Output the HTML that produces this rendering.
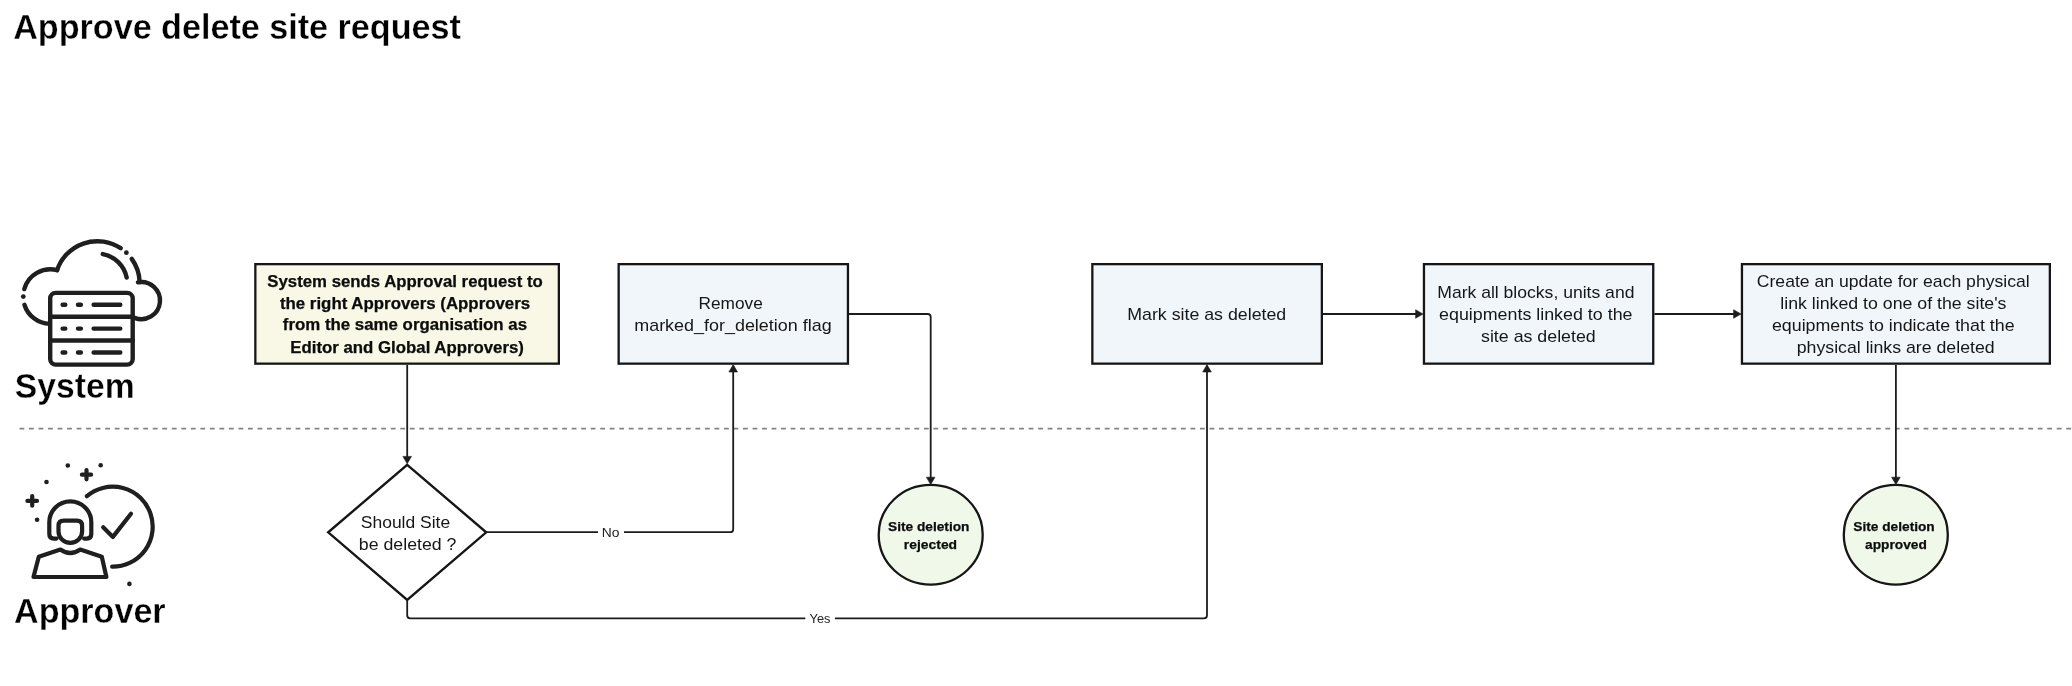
<!DOCTYPE html>
<html><head><meta charset="utf-8"><title>Approve delete site request</title>
<style>
html,body{margin:0;padding:0;background:#fff;width:2072px;height:686px;overflow:hidden}
svg{position:absolute;left:0;top:0;display:block;will-change:transform}
text{font-family:"Liberation Sans",sans-serif}
</style></head><body>
<svg width="2072" height="686" viewBox="0 0 2072 686">
<rect x="0" y="0" width="2072" height="686" fill="#ffffff"/>
<line x1="19.5" y1="428.7" x2="2072" y2="428.7" stroke="#848484" stroke-width="1.8" stroke-dasharray="4.8 4.72"/>
<rect x="255.35" y="264.15" width="303.5" height="99.50000000000001" fill="#f9f8e7" stroke="#161616" stroke-width="2.3"/>
<rect x="618.65" y="264.15" width="229.3" height="99.50000000000001" fill="#f1f6fb" stroke="#161616" stroke-width="2.3"/>
<rect x="1092.3500000000001" y="264.15" width="229.49999999999994" height="99.50000000000001" fill="#f1f6fb" stroke="#161616" stroke-width="2.3"/>
<rect x="1423.95" y="264.15" width="229.30000000000013" height="99.50000000000001" fill="#f1f6fb" stroke="#161616" stroke-width="2.3"/>
<rect x="1741.95" y="264.15" width="307.90000000000003" height="99.50000000000001" fill="#f1f6fb" stroke="#161616" stroke-width="2.3"/>
<path d="M407.2 464.79999999999995 L486.2 532.3 L407.2 599.8 L328.2 532.3 Z" fill="#ffffff" stroke="#161616" stroke-width="2.4" stroke-linejoin="miter"/>
<ellipse cx="930.7" cy="534.75" rx="52" ry="49.8" fill="#f0f8ea" stroke="#161616" stroke-width="2.3"/>
<ellipse cx="1895.8" cy="534.75" rx="52" ry="49.8" fill="#f0f8ea" stroke="#161616" stroke-width="2.3"/>
<path d="M407.2 365 L407.2 457" fill="none" stroke="#1c1c1c" stroke-width="1.8" stroke-linejoin="round"/>
<polygon points="407.2,463.8 402.9,456.40000000000003 411.5,456.40000000000003" fill="#1c1c1c" stroke="#1c1c1c" stroke-width="0.6" stroke-linejoin="miter"/>
<path d="M486.2 532.2 L598 532.2 M624 532.2 L730.2 532.2 Q733.2 532.2 733.2 529.2 L733.2 371" fill="none" stroke="#1c1c1c" stroke-width="1.8" stroke-linejoin="round"/>
<polygon points="733.2,364.6 728.9000000000001,372.0 737.5,372.0" fill="#1c1c1c" stroke="#1c1c1c" stroke-width="0.6" stroke-linejoin="miter"/>
<path d="M849 314 L927.7 314 Q930.7 314 930.7 317 L930.7 478" fill="none" stroke="#1c1c1c" stroke-width="1.8" stroke-linejoin="round"/>
<polygon points="930.7,484.6 926.4000000000001,477.20000000000005 935.0,477.20000000000005" fill="#1c1c1c" stroke="#1c1c1c" stroke-width="0.6" stroke-linejoin="miter"/>
<path d="M407.2 600 L407.2 615.3 Q407.2 618.3 410.2 618.3 L805.3 618.3 M834.9 618.3 L1204 618.3 Q1207 618.3 1207 615.3 L1207 371" fill="none" stroke="#1c1c1c" stroke-width="1.8" stroke-linejoin="round"/>
<polygon points="1207,364.6 1202.7,372.0 1211.3,372.0" fill="#1c1c1c" stroke="#1c1c1c" stroke-width="0.6" stroke-linejoin="miter"/>
<path d="M1323 314 L1416 314" fill="none" stroke="#1c1c1c" stroke-width="1.8" stroke-linejoin="round"/>
<polygon points="1423,314 1415.6,309.7 1415.6,318.3" fill="#1c1c1c" stroke="#1c1c1c" stroke-width="0.6" stroke-linejoin="miter"/>
<path d="M1654.4 314 L1734 314" fill="none" stroke="#1c1c1c" stroke-width="1.8" stroke-linejoin="round"/>
<polygon points="1741,314 1733.6,309.7 1733.6,318.3" fill="#1c1c1c" stroke="#1c1c1c" stroke-width="0.6" stroke-linejoin="miter"/>
<path d="M1895.9 365 L1895.9 478" fill="none" stroke="#1c1c1c" stroke-width="1.8" stroke-linejoin="round"/>
<polygon points="1895.9,484.6 1891.6000000000001,477.20000000000005 1900.2,477.20000000000005" fill="#1c1c1c" stroke="#1c1c1c" stroke-width="0.6" stroke-linejoin="miter"/>
<text x="13.15" y="38.9" font-size="34.2" font-weight="bold" text-anchor="start" fill="#000" textLength="447.77" lengthAdjust="spacingAndGlyphs" stroke="#fff" stroke-width="0.3">Approve delete site request</text>
<text x="14.82" y="397.8" font-size="34.2" font-weight="bold" text-anchor="start" fill="#000" textLength="119.79" lengthAdjust="spacingAndGlyphs" stroke="#fff" stroke-width="0.3">System</text>
<text x="14.05" y="622.8" font-size="34.2" font-weight="bold" text-anchor="start" fill="#000" textLength="151.58" lengthAdjust="spacingAndGlyphs" stroke="#fff" stroke-width="0.3">Approver</text>
<text x="267.31" y="286.8" font-size="15.7" font-weight="bold" text-anchor="start" fill="#0c0c0c" textLength="275.44" lengthAdjust="spacingAndGlyphs" stroke="#0c0c0c" stroke-width="0.25">System sends Approval request to</text>
<text x="279.9" y="308.5" font-size="15.7" font-weight="bold" text-anchor="start" fill="#0c0c0c" textLength="250.29" lengthAdjust="spacingAndGlyphs" stroke="#0c0c0c" stroke-width="0.25">the right Approvers (Approvers</text>
<text x="282.81" y="330.4" font-size="15.7" font-weight="bold" text-anchor="start" fill="#0c0c0c" textLength="244.28" lengthAdjust="spacingAndGlyphs" stroke="#0c0c0c" stroke-width="0.25">from the same organisation as</text>
<text x="290.37" y="352.5" font-size="15.7" font-weight="bold" text-anchor="start" fill="#0c0c0c" textLength="233.56" lengthAdjust="spacingAndGlyphs" stroke="#0c0c0c" stroke-width="0.25">Editor and Global Approvers)</text>
<text x="698.48" y="309.1" font-size="15.9" text-anchor="start" fill="#161616" textLength="64.27" lengthAdjust="spacingAndGlyphs">Remove</text>
<text x="634.22" y="330.9" font-size="15.9" text-anchor="start" fill="#161616" textLength="197.43" lengthAdjust="spacingAndGlyphs">marked_for_deletion flag</text>
<text x="1127.24" y="320.0" font-size="15.9" text-anchor="start" fill="#161616" textLength="158.99" lengthAdjust="spacingAndGlyphs">Mark site as deleted</text>
<text x="1437.26" y="298.05" font-size="15.9" text-anchor="start" fill="#161616" textLength="197.17" lengthAdjust="spacingAndGlyphs">Mark all blocks, units and</text>
<text x="1439.05" y="319.8" font-size="15.9" text-anchor="start" fill="#161616" textLength="193.44" lengthAdjust="spacingAndGlyphs">equipments linked to the</text>
<text x="1481.0" y="341.6" font-size="15.9" text-anchor="start" fill="#161616" textLength="114.73" lengthAdjust="spacingAndGlyphs">site as deleted</text>
<text x="1756.8" y="286.9" font-size="15.9" text-anchor="start" fill="#161616" textLength="272.87" lengthAdjust="spacingAndGlyphs">Create an update for each physical</text>
<text x="1780.31" y="308.9" font-size="15.9" text-anchor="start" fill="#161616" textLength="226.13" lengthAdjust="spacingAndGlyphs">link linked to one of the site's</text>
<text x="1771.95" y="331.0" font-size="15.9" text-anchor="start" fill="#161616" textLength="242.63" lengthAdjust="spacingAndGlyphs">equipments to indicate that the</text>
<text x="1796.75" y="352.7" font-size="15.9" text-anchor="start" fill="#161616" textLength="197.88" lengthAdjust="spacingAndGlyphs">physical links are deleted</text>
<text x="360.8" y="527.8" font-size="15.9" text-anchor="start" fill="#161616" textLength="89.37" lengthAdjust="spacingAndGlyphs">Should Site</text>
<text x="358.85" y="549.9" font-size="15.9" text-anchor="start" fill="#161616" textLength="97.61" lengthAdjust="spacingAndGlyphs">be deleted ?</text>
<text x="888.0" y="530.8" font-size="13.0" font-weight="bold" text-anchor="start" fill="#0c0c0c" textLength="81.44" lengthAdjust="spacingAndGlyphs" stroke="#0c0c0c" stroke-width="0.25">Site deletion</text>
<text x="903.88" y="548.6" font-size="13.0" font-weight="bold" text-anchor="start" fill="#0c0c0c" textLength="53.22" lengthAdjust="spacingAndGlyphs" stroke="#0c0c0c" stroke-width="0.25">rejected</text>
<text x="1853.3" y="530.8" font-size="13.0" font-weight="bold" text-anchor="start" fill="#0c0c0c" textLength="81.44" lengthAdjust="spacingAndGlyphs" stroke="#0c0c0c" stroke-width="0.25">Site deletion</text>
<text x="1865.0" y="548.6" font-size="13.0" font-weight="bold" text-anchor="start" fill="#0c0c0c" textLength="61.8" lengthAdjust="spacingAndGlyphs" stroke="#0c0c0c" stroke-width="0.25">approved</text>
<text x="601.86" y="536.9" font-size="12.3" text-anchor="start" fill="#222" textLength="17.72" lengthAdjust="spacingAndGlyphs">No</text>
<text x="809.62" y="622.7" font-size="12.3" text-anchor="start" fill="#222" textLength="20.85" lengthAdjust="spacingAndGlyphs">Yes</text>
<g fill="none" stroke="#1f1f1f" stroke-width="4.4" stroke-linecap="round" stroke-linejoin="round">
<rect x="50.2" y="292.9" width="82.5" height="71.7" rx="5.6" ry="5.6"/>
<path d="M50.2 316.7 H132.7 M50.2 340.5 H132.7"/>
<path d="M62.6 304.8 H65.3 M78.0 304.8 H80.9 M93.6 304.8 H120.3"/>
<path d="M62.6 328.6 H65.3 M78.0 328.6 H80.9 M93.6 328.6 H120.3"/>
<path d="M62.6 352.5 H65.3 M78.0 352.5 H80.9 M93.6 352.5 H120.3"/>
<path d="M24.25 289.09 A27.3 27.3 0 0 1 57.14 270.12"/>
<path d="M24.44 304.73 A27.3 27.3 0 0 0 49.60 323.89"/>
<path d="M57.05 270.28 A42.4 42.4 0 0 1 120.61 248.18"/>
<path d="M131.73 258.86 A42.4 42.4 0 0 1 139.67 281.93"/>
<path d="M102.77 254.10 A30.0 30.0 0 0 1 126.67 277.50"/>
<path d="M137.96 282.32 A18.6 18.6 0 1 1 134.51 317.88"/>
</g>
<circle cx="23.30" cy="296.60" r="2.4" fill="#1f1f1f"/>
<circle cx="126.35" cy="252.71" r="2.4" fill="#1f1f1f"/>
<g fill="none" stroke="#1f1f1f" stroke-width="4.2" stroke-linecap="round" stroke-linejoin="round">
<path d="M86.85 496.18 A40.0 40.0 0 1 1 112.11 566.70"/>
<path d="M103.2 527.3 L112.9 536.9 L131.0 513.7"/>
<path d="M56.5 538.6 H53.8 Q49.3 538.6 49.3 534.1 V522.3 A21 21 0 0 1 91.3 522.3 V534.1 Q91.3 538.6 86.8 538.6 H84.1"/>
<path d="M58.5 531.5 V525.8 Q58.5 520.6 63.7 520.6 H76.9 Q82.1 520.6 82.1 525.8 V531.5 A11.8 11.4 0 0 1 58.5 531.5 Z"/>
<path d="M38.8 556.7 L60.4 549.5 Q70.3 556.5 80.2 549.5 L101.8 556.7 L106.4 577.0 H33.5 Z"/>
<path d="M81.9 474.7 H91.1 M86.5 470.09999999999997 V479.3"/>
<path d="M27.400000000000002 500.9 H37.0 M32.2 496.09999999999997 V505.7"/>
</g>
<circle cx="67.8" cy="465.5" r="2.3" fill="#1f1f1f"/>
<circle cx="100.7" cy="465.3" r="2.3" fill="#1f1f1f"/>
<circle cx="46.5" cy="482.0" r="2.3" fill="#1f1f1f"/>
<circle cx="37.1" cy="519.8" r="2.3" fill="#1f1f1f"/>
<circle cx="129.4" cy="583.9" r="2.3" fill="#1f1f1f"/>
</svg>
</body></html>
